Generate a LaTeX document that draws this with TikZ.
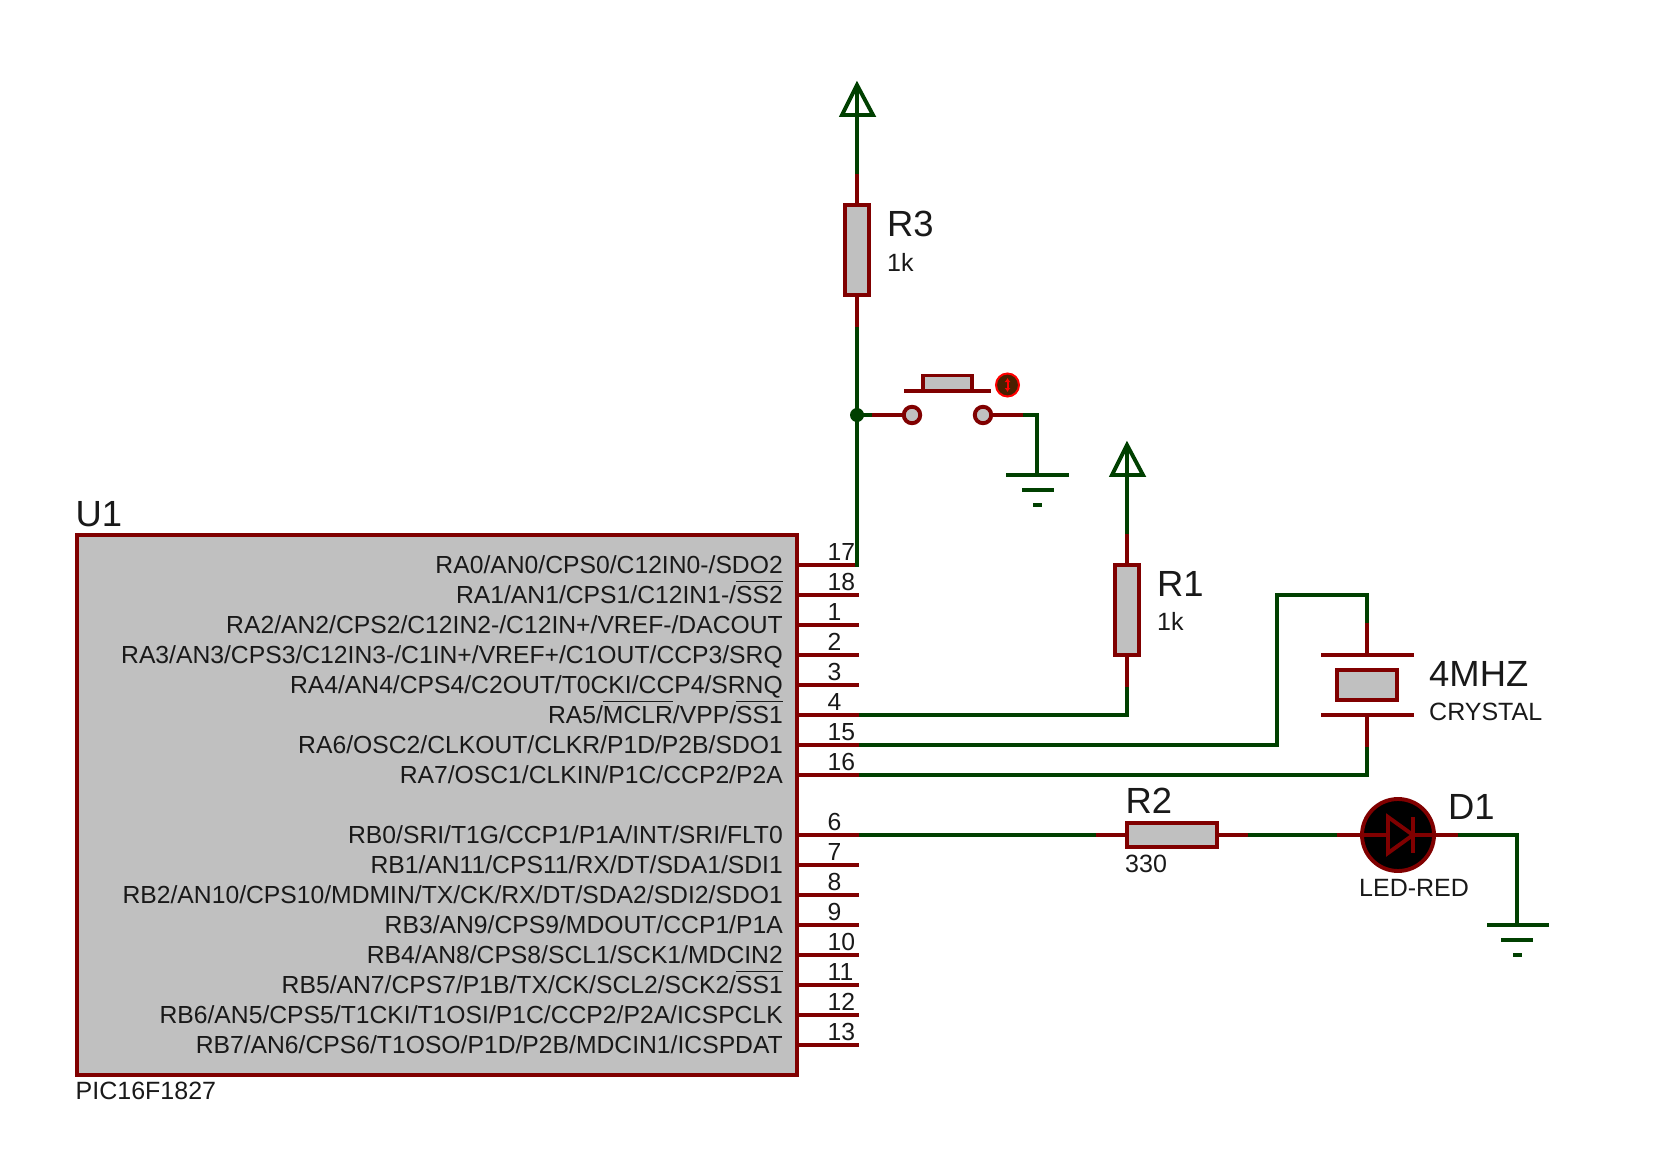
\documentclass[tikz,border=0pt]{standalone}
\usepackage{fontspec}
\setmainfont{Liberation Sans}
\usetikzlibrary{arrows.meta}
\definecolor{wirec}{RGB}{0,64,0}
\definecolor{compc}{RGB}{128,0,0}
\definecolor{bodyc}{RGB}{192,192,192}
\definecolor{indc}{RGB}{72,32,0}
\newcommand\ovl[1]{\setbox0=\hbox{#1}\rlap{\raisebox{21.5pt}{\rule{\wd0}{1pt}}}\box0}
\tikzset{
  x=1pt,y=-1pt,
  wire/.style={draw=wirec,line width=3.9pt,line join=miter},
  lead/.style={draw=compc,line width=3.9pt},
  body/.style={draw=compc,fill=bodyc,line width=3.9pt,inner sep=0pt,outer sep=0pt,rectangle},
  pinlab/.style={anchor=base east,inner sep=0pt,font=\fontsize{24.7}{25}\selectfont,text=black!90},
  pinnum/.style={anchor=base west,inner sep=0pt,font=\fontsize{24.7}{25}\selectfont,text=black!90},
  big/.style={anchor=base west,inner sep=0pt,font=\fontsize{36.4}{37}\selectfont,text=black!90},
  small/.style={anchor=base west,inner sep=0pt,font=\fontsize{25}{25}\selectfont,text=black!90},
  contact/.style={circle,draw=compc,fill=bodyc,line width=3.9pt,minimum size=16.5pt,inner sep=0pt,outer sep=0pt},
}
\begin{document}
\begin{tikzpicture}
\useasboundingbox (0,0) rectangle (1660,1172);
% MCU
\node[body,minimum width=720pt,minimum height=540pt,anchor=north west] (U1) at (77,535) {};
\node[big] (U1ref) at (75.5,526.5) {U1};
\node[small] (U1val) at (75.5,1099.5) {PIC16F1827};
% pins
\foreach \nm/\yy/\num/\txt in {
 a0/565/17/{RA0/AN0/CPS0/C12IN0-/SDO2},
 a1/595/18/{RA1/AN1/CPS1/C12IN1-/\ovl{SS2}},
 a2/625/1/{RA2/AN2/CPS2/C12IN2-/C12IN+/VREF-/DACOUT},
 a3/655/2/{RA3/AN3/CPS3/C12IN3-/C1IN+/VREF+/C1OUT/CCP3/SRQ},
 a4/685/3/{RA4/AN4/CPS4/C2OUT/T0CKI/CCP4/SRNQ},
 a5/715/4/{RA5/\ovl{MCLR}/VPP/\ovl{SS1}},
 a6/745/15/{RA6/OSC2/CLKOUT/CLKR/P1D/P2B/SDO1},
 a7/775/16/{RA7/OSC1/CLKIN/P1C/CCP2/P2A},
 b0/835/6/{RB0/SRI/T1G/CCP1/P1A/INT/SRI/FLT0},
 b1/865/7/{RB1/AN11/CPS11/RX/DT/SDA1/SDI1},
 b2/895/8/{RB2/AN10/CPS10/MDMIN/TX/CK/RX/DT/SDA2/SDI2/SDO1},
 b3/925/9/{RB3/AN9/CPS9/MDOUT/CCP1/P1A},
 b4/955/10/{RB4/AN8/CPS8/SCL1/SCK1/MDCIN2},
 b5/985/11/{RB5/AN7/CPS7/P1B/TX/CK/SCL2/SCK2/\ovl{SS1}},
 b6/1015/12/{RB6/AN5/CPS5/T1CKI/T1OSI/P1C/CCP2/P2A/ICSPCLK},
 b7/1045/13/{RB7/AN6/CPS6/T1OSO/P1D/P2B/MDCIN1/ICSPDAT}}
{
  \coordinate (in\nm) at (797,\yy);
  \coordinate (pin\nm) at (859,\yy);
  \draw[lead] (in\nm) -- (pin\nm);
  \node[pinlab] (lab\nm) at (783,\yy+8.3) {\txt};
  \node[pinnum] (num\nm) at (827.5,\yy-5) {\num};
}
% R3 and top power
\coordinate (pw3) at (857,85);
\coordinate (pw3a) at (842,115);
\coordinate (pw3b) at (873,115);
\coordinate (r3t) at (857,174);
\coordinate (r3b) at (857,327);
\coordinate (j1) at (857,415);
\node[body,minimum width=24pt,minimum height=90pt] (R3) at (857,250) {};
\draw[wire] (pw3) -- (r3t);
\draw[wire,line join=miter] (pw3a) -- (pw3) -- (pw3b) -- cycle;
\draw[lead] (r3t) -- (R3.north);
\draw[lead] (R3.south) -- (r3b);
\draw[wire] (r3b) -- (j1) -- (857,565) -- (pina0);
\node[big] (R3ref) at (887,236.5) {R3};
\node[small] (R3val) at (887,271) {1k};
% switch
\node[contact] (sw1) at (912,415) {};
\node[contact] (sw2) at (983,415) {};
\coordinate (sw1w) at (872,415);
\coordinate (sw2w) at (1023,415);
\coordinate (gnd1) at (1037,475);
\draw[wire] (j1) -- (sw1w);
\draw[lead] (sw1w) -- (sw1);
\draw[lead] (sw2) -- (sw2w);
\draw[wire] (sw2w) -- (1037,415) -- (gnd1);
\coordinate (barl) at (904,391);
\coordinate (barr) at (991,391);
\draw[lead] (barl) -- (barr);
\node[body,minimum width=49pt,minimum height=15pt] (btn) at (947.5,383) {};
\node[circle,draw=red,fill=indc,line width=2pt,minimum size=23pt,inner sep=0pt] (ind) at (1007.5,385) {};
\draw[red,line width=2pt,{Latex[length=4pt,width=6pt]}-{Latex[length=4pt,width=6pt]}] (1007.5,378) -- (1007.5,392);
\node[circle,fill=wirec,minimum size=14pt,inner sep=0pt] (junc) at (j1) {};
% ground 1
\draw[wire] (1006,475) -- (1069,475);
\draw[wire] (1022,490) -- (1054,490);
\draw[wire] (1033,505) -- (1042,505);
% R1
\coordinate (pw1) at (1127,445);
\coordinate (pw1a) at (1112,475);
\coordinate (pw1b) at (1143,475);
\coordinate (r1t) at (1127,534);
\coordinate (r1b) at (1127,687);
\node[body,minimum width=24pt,minimum height=90pt] (R1) at (1127,610) {};
\draw[wire] (pw1) -- (r1t);
\draw[wire] (pw1a) -- (pw1) -- (pw1b) -- cycle;
\draw[lead] (r1t) -- (R1.north);
\draw[lead] (R1.south) -- (r1b);
\draw[wire] (r1b) -- (1127,715) -- (pina5);
\node[big] (R1ref) at (1157,596) {R1};
\node[small] (R1val) at (1157,630.5) {1k};
% crystal
\node[body,minimum width=60pt,minimum height=30pt] (X1) at (1367,685) {};
\coordinate (xt) at (1367,655);
\coordinate (xb) at (1367,715);
\coordinate (xtw) at (1367,623);
\coordinate (xbw) at (1367,747);
\draw[lead] (1321,655) -- (1414,655);
\draw[lead] (1321,715) -- (1414,715);
\draw[lead] (xtw) -- (xt);
\draw[lead] (xb) -- (xbw);
\draw[wire] (pina6) -- (1277,745) -- (1277,595) -- (1367,595) -- (xtw);
\draw[wire] (pina7) -- (1367,775) -- (xbw);
\node[big] (Xref) at (1429,686.5) {4MHZ};
\node[small] (Xval) at (1429,720.5) {CRYSTAL};
% R2
\node[body,minimum width=90pt,minimum height=24pt] (R2) at (1172,835) {};
\coordinate (r2l) at (1096,835);
\coordinate (r2r) at (1248,835);
\draw[wire] (pinb0) -- (r2l);
\draw[lead] (r2l) -- (R2.west);
\draw[lead] (R2.east) -- (r2r);
\node[big] (R2ref) at (1125.5,813.5) {R2};
\node[small] (R2val) at (1125,872.5) {330};
% LED
\node[circle,draw=compc,fill=black,line width=3.9pt,minimum size=72pt,inner sep=0pt,outer sep=0pt] (D1) at (1398,835) {};
\coordinate (dl) at (1337,835);
\coordinate (dr) at (1458,835);
\draw[wire] (r2r) -- (dl);
\draw[lead] (dl) -- (1388,835);
\draw[lead] (1388,817) -- (1413,835) -- (1388,853) -- cycle;
\draw[lead] (1413,817) -- (1413,853);
\draw[lead] (1413,835) -- (dr);
\draw[wire] (dr) -- (1517,835) -- (1517,925);
\node[big] (D1ref) at (1448,819) {D1};
\node[small] (D1val) at (1359,896.5) {LED-RED};
% ground 2
\draw[wire] (1487,925) -- (1549,925);
\draw[wire] (1501,940) -- (1533,940);
\draw[wire] (1513,955) -- (1522,955);
\end{tikzpicture}
\end{document}
